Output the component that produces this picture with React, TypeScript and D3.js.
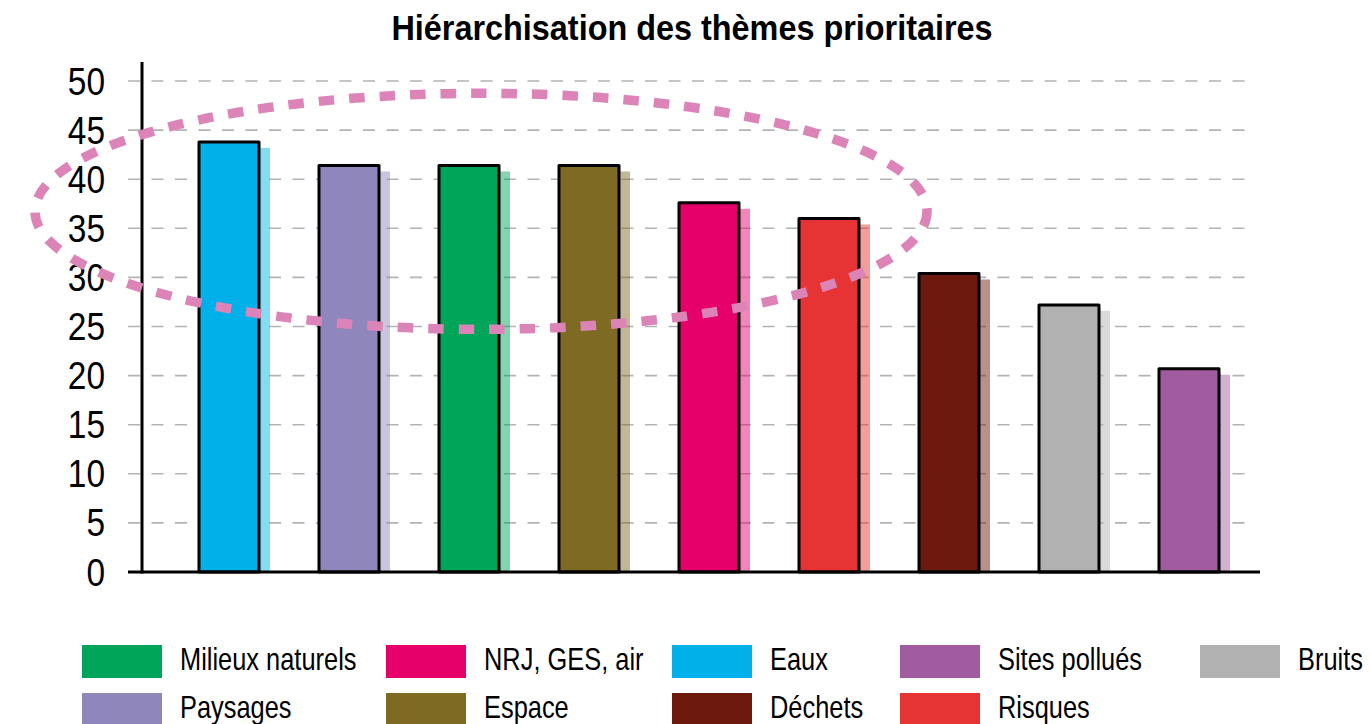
import React from "react";
import { scaleBand, scaleLinear, range } from "d3";

const categories = [
  "Eaux",
  "Paysages",
  "Milieux naturels",
  "Espace",
  "NRJ, GES, air",
  "Risques",
  "Déchets",
  "Bruits",
  "Sites pollués",
];
const values = [43.8, 41.4, 41.4, 41.4, 37.6, 36.0, 30.4, 27.2, 20.7];
const colors = [
  "#00b1e9",
  "#8f86bb",
  "#00a55a",
  "#7f6a23",
  "#e5006a",
  "#e53433",
  "#6b1a0d",
  "#b1b1b1",
  "#a05c9f",
];
const yTicks = range(0, 51, 5);
const legendRows = [
  ["Milieux naturels", "NRJ, GES, air", "Eaux", "Sites pollués", "Bruits"],
  ["Paysages", "Espace", "Déchets", "Risques"],
];
const legendColX = [82, 386, 672, 900, 1200];

const W = 1371;
const H = 724;
const FONT = "'Liberation Sans', Arial, sans-serif";

// condensed-looking text: horizontal squeeze around the anchor point
const Narrow = ({ x, y, sx, children, ...rest }: any) => (
  <text transform={`translate(${x},${y}) scale(${sx},1)`} {...rest}>
    {children}
  </text>
);

export default function App() {
  const x = scaleBand<string>()
    .domain(categories)
    .range([142, 1276])
    .paddingInner(0.5)
    .paddingOuter(0.475);
  const y = scaleLinear().domain([0, 50]).range([572, 81]);
  const bw = x.bandwidth();

  return (
    <svg
      width={W}
      height={H}
      style={{ position: "absolute", left: 0, top: 0, background: "#fff" }}
      fontFamily={FONT}
    >
      <Narrow
        x={692}
        y={40}
        sx={0.9}
        textAnchor="middle"
        fontSize={36}
        fontWeight="bold"
        fill="#000"
      >
        Hiérarchisation des thèmes prioritaires
      </Narrow>

      {/* grid */}
      {yTicks
        .filter((t) => t > 0)
        .map((t) => (
          <line
            key={"g" + t}
            x1={128}
            x2={1256}
            y1={y(t)}
            y2={y(t)}
            stroke="#b3b3b3"
            strokeWidth={1.6}
            strokeDasharray="12 11.5"
          />
        ))}

      {yTicks.map((t) => (
        <Narrow
          key={"t" + t}
          x={105}
          y={y(t) + 13.5}
          sx={0.88}
          textAnchor="end"
          fontSize={38}
          fill="#000"
        >
          {t}
        </Narrow>
      ))}

      {/* shadows */}
      {categories.map((c, i) => (
        <rect
          key={"s" + c}
          x={(x(c) as number) + 11}
          y={y(values[i]) + 6}
          width={bw}
          height={y(0) - y(values[i]) - 6}
          fill={colors[i]}
          opacity={0.48}
        />
      ))}

      {/* bars */}
      {categories.map((c, i) => (
        <rect
          key={"b" + c}
          x={x(c) as number}
          y={y(values[i])}
          width={bw}
          height={y(0) - y(values[i])}
          fill={colors[i]}
          stroke="#000"
          strokeWidth={3}
          strokeLinejoin="round"
        />
      ))}

      {/* axes */}
      <line x1={142} x2={142} y1={62} y2={573.5} stroke="#000" strokeWidth={3} />
      <line x1={128} x2={1260} y1={572} y2={572} stroke="#000" strokeWidth={3} />

      {/* highlight ellipse */}
      <ellipse
        cx={481}
        cy={211.3}
        rx={446}
        ry={118}
        fill="none"
        stroke="#dc84b7"
        strokeWidth={9.5}
        strokeDasharray="15.5 15"
      />

      {/* legend */}
      {legendRows.map((row, r) =>
        row.map((name, ci) => {
          const idx = categories.indexOf(name);
          const top = 645 + r * 48;
          return (
            <g key={"l" + name}>
              <rect
                x={legendColX[ci]}
                y={top}
                width={80}
                height={33}
                fill={colors[idx]}
              />
              <Narrow
                x={legendColX[ci] + 98}
                y={top + 25}
                sx={0.82}
                fontSize={31}
                fill="#000"
              >
                {name}
              </Narrow>
            </g>
          );
        })
      )}
    </svg>
  );
}
